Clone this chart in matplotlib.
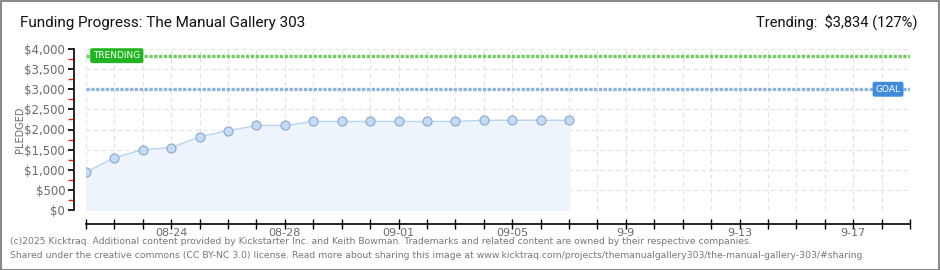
"""Kicktraq-style funding progress chart."""

import matplotlib
matplotlib.use("Agg")
import matplotlib.pyplot as plt
from matplotlib.patches import Rectangle
import pandas as pd

# data
dates = pd.date_range("2024-08-21", "2024-09-07", freq="D")
pledged = [940, 1300, 1500, 1550, 1820, 1970, 2100, 2100, 2200, 2200,
           2200, 2200, 2200, 2200, 2230, 2230, 2230, 2230]
axis_start = pd.Timestamp("2024-08-21")
axis_end = pd.Timestamp("2024-09-19")
goal = 3000
trending = 3834
y_ticks = [0, 500, 1000, 1500, 2000, 2500, 3000, 3500, 4000]
x_tick_dates = pd.date_range("2024-08-24", "2024-09-17", freq="4D")
x_tick_labels = ["08-24", "08-28", "09-01", "09-05", "9-9", "9-13", "9-17"]

plt.rcParams["font.family"] = ["DejaVu Sans"]

W, H = 940, 270
fig = plt.figure(figsize=(W / 100, H / 100), dpi=100)
fig.patch.set_facecolor("white")
fig.add_artist(Rectangle((0.5 / W, 0.5 / H), 1 - 1.5 / W, 1 - 1.5 / H,
                         transform=fig.transFigure, fill=False,
                         edgecolor="#8a8a8a", lw=1.5))

ax = fig.add_axes([86 / W, 1 - 210 / H, (910 - 86) / W, (210 - 49) / H])
ax.set_xlim(axis_start, axis_end)
ax.set_ylim(0, 4000)

# grid
days = pd.date_range(axis_start, axis_end, freq="D")
for d in days:
    ax.axvline(d, color="#e2e2e2", lw=0.8, ls=(0, (4, 3)), zorder=0)
for v in y_ticks:
    ax.axhline(v, color="#e2e2e2", lw=0.8, ls=(0, (4, 3)), zorder=0)

# series
ax.fill_between(dates, pledged, 0, color="#edf4fc", zorder=1)
ax.plot(dates, pledged, color="#b8d5f2", lw=1, zorder=2)
ax.plot(dates, pledged, "o", ms=6.5, mfc="#c3dbf6", mec="#8fa6c6",
        mew=0.8, zorder=3)

# goal / trending lines
ax.axhline(goal, color="#8eb3dc", lw=2.4, ls=(0, (1, 0.45)), zorder=2)
ax.axhline(trending, color="#72cc63", lw=2.4, ls=(0, (1, 0.45)), zorder=2)
ax.text(pd.Timestamp("2024-08-21 06:00"), trending, "TRENDING",
        fontsize=6.5, color="white", va="center", ha="left", zorder=5,
        bbox=dict(boxstyle="round,pad=0.25,rounding_size=0.15",
                  fc="#22b422", ec="#22b422"))
ax.text(pd.Timestamp("2024-09-18 16:00"), goal, "GOAL",
        fontsize=6.5, color="white", va="center", ha="right", zorder=5,
        bbox=dict(boxstyle="round,pad=0.25,rounding_size=0.15",
                  fc="#3f8bd9", ec="#3f8bd9"))

# axes styling
for s in ("top", "right"):
    ax.spines[s].set_visible(False)
ax.spines["left"].set_position(("outward", 9))
ax.spines["bottom"].set_position(("outward", 10))
ax.spines["left"].set_linewidth(1.2)
ax.spines["bottom"].set_linewidth(1.2)

ax.set_yticks(y_ticks)
ax.set_yticklabels([f"${v:,}" for v in y_ticks], fontsize=8.5, color="#6b6b6b")
ax.set_yticks(range(250, 4000, 500), minor=True)
ax.tick_params(axis="y", which="major", length=4, width=1.2, color="black", pad=2)
ax.tick_params(axis="y", which="minor", length=4, width=1, color="#e02020")

ax.set_xticks(days)
ax.set_xticklabels([""] * len(days))
ax.tick_params(axis="x", which="major", direction="inout", length=7,
               width=1, color="black")
for d, lab in zip(x_tick_dates, x_tick_labels):
    ax.annotate(lab, xy=(d, 0), xycoords=("data", "axes fraction"),
                xytext=(0, -13), textcoords="offset points", ha="center",
                va="top", fontsize=8, color="#6b6b6b")

fig.text(20 / W, 1 - 130 / H, "PLEDGED", rotation=90, fontsize=7,
         color="#6b6b6b", ha="center", va="center")

# header
fig.text(20 / W, 1 - 23 / H, "Funding Progress: The Manual Gallery 303",
         fontsize=11, color="#111111", ha="left", va="center", family="Roboto")
fig.text(917 / W, 1 - 22 / H, "Trending:  $3,834 (127%)",
         fontsize=10.5, color="#111111", ha="right", va="center",
         family="Roboto")

# footer
fig.text(10 / W, 1 - 242 / H,
         "(c)2025 Kicktraq. Additional content provided by Kickstarter Inc. "
         "and Keith Bowman. Trademarks and related content are owned by "
         "their respective companies.",
         fontsize=6.7, color="#777777", ha="left", va="center")
fig.text(10 / W, 1 - 255 / H,
         "Shared under the creative commons (CC BY-NC 3.0) license. Read more "
         "about sharing this image at www.kicktraq.com/projects/"
         "themanualgallery303/the-manual-gallery-303/#sharing",
         fontsize=6.7, color="#777777", ha="left", va="center")

fig.savefig("out.png", dpi=100)
